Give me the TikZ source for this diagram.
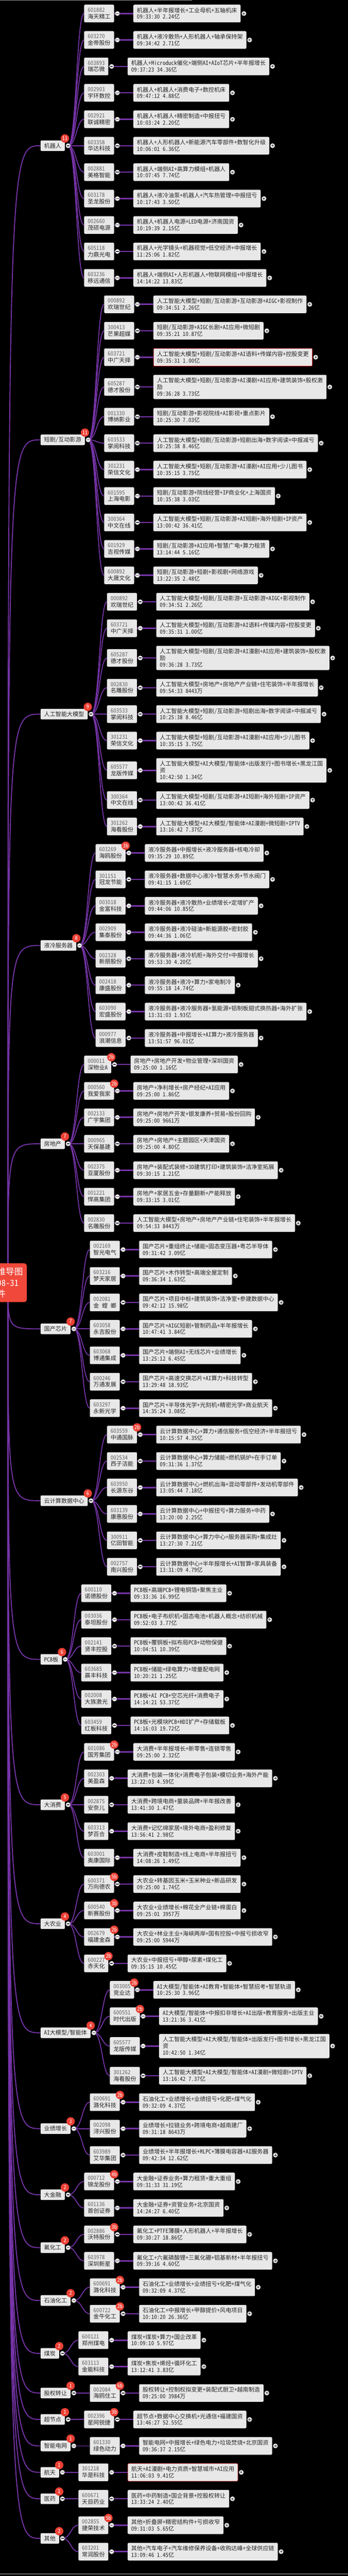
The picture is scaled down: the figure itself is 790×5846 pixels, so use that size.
\documentclass[tikz,border=0pt]{standalone}
\usepackage{fontspec}
\setmainfont{Noto Sans CJK SC}[RawFeature=+hwid]
\usetikzlibrary{positioning}
\pgfdeclarelayer{bg}
\pgfsetlayers{bg,main}
\definecolor{linkpurple}{RGB}{118,52,168}
\definecolor{boxgray}{RGB}{232,232,232}
\definecolor{inktext}{RGB}{38,38,38}
\definecolor{codegray}{RGB}{100,100,100}
\definecolor{badgered}{RGB}{236,64,52}
\definecolor{rootred}{RGB}{240,72,58}
\definecolor{alertred}{RGB}{225,45,45}
\tikzset{
  catbox/.style={rectangle, rounded corners=2.5pt, fill=boxgray, text=inktext, inner xsep=8pt, inner ysep=0pt, minimum height=24pt, font=\fontsize{13}{15}\selectfont},
  codebox/.style={catbox, align=left, minimum height=40pt},
  infobox/.style={catbox, align=left},
  alert/.style={draw=alertred, line width=0.9pt},
  badge/.style={circle, fill=badgered, text=white, inner sep=0pt, minimum size=19pt, font=\fontsize{12}{12}\selectfont},
  knob/.style={circle, fill=white, draw=black!55, line width=0.5pt, minimum size=10.6pt, inner sep=0pt},
  minus/.style={knob, path picture={\draw[line width=1.6pt, black!80] ([xshift=-3pt]path picture bounding box.center) -- ([xshift=3pt]path picture bounding box.center);}},
  plus/.style={knob, path picture={\draw[line width=1.1pt, black!80] ([xshift=-3pt]path picture bounding box.center) -- ([xshift=3pt]path picture bounding box.center) ([yshift=-3pt]path picture bounding box.center) -- ([yshift=3pt]path picture bounding box.center);}},
  rootlink/.style={draw=linkpurple, line width=2.2pt},
  catlink/.style={draw=linkpurple, line width=2pt},
  itemlink/.style={draw=linkpurple, line width=3pt},
  rootbox/.style={rectangle, rounded corners=6pt, fill=rootred, text=white, align=center, minimum width=135pt, minimum height=88pt, font=\fontsize{19.5}{25}\selectfont}
}
\newcounter{itm}
\newcommand\grp[4]{%
  \pgfmathsetmacro\yc{\yb+20+(60*#3-20+#4)/2}%
  \node[catbox, anchor=west] (#1) at (92,\yc) {#2};
  \node[minus] (#1m) at ([xshift=7.3]#1.east) {};
  \node[badge] (#1b) at ([yshift=16.5]#1.east) {#3};
  \coordinate (go) at (#1m.center);
  \coordinate (gx) at ([xshift=43.5]#1.east);
  \begin{pgfonlayer}{bg}
    \draw[rootlink] (rootc) .. controls (rootc |- #1.west) .. (#1.west);
  \end{pgfonlayer}
}
\newcommand\itmx[5]{%
  \stepcounter{itm}%
  \pgfmathsetmacro\yc{\yb+20+#2/2}%
  \pgfmathsetmacro\yn{\yc+#2/2}%
  \xdef\yb{\yn}%
  \node[codebox, anchor=west] (s\theitm) at (gx |- 0,\yc) {{\color{codegray}#3}\\#4};
  \node[infobox, #1, right=43.5pt of s\theitm, minimum height=#2pt] (t\theitm) {#5};
  \begin{pgfonlayer}{bg}
    \draw[catlink] (go) .. controls ([xshift=19]go) and ([xshift=19]go |- s\theitm.west) .. (s\theitm.west);
    \draw[itemlink] (s\theitm.east) -- (t\theitm.west);
  \end{pgfonlayer}
  \node[minus] (m\theitm) at ([xshift=7.3]s\theitm.east) {};
  \node[plus] (p\theitm) at ([xshift=7.3]t\theitm.east) {};
}
\newcommand\itm[4][]{\itmx{#1}{40}{#2}{#3}{#4}}
\newcommand\itmt[4][]{\itmx{#1}{55}{#2}{#3}{#4}}
\newcommand\hot[1]{\node[badge] (h\theitm) at ([yshift=16.5]s\theitm.east) {#1};}
\begin{document}
\begin{tikzpicture}[x=1pt, y=-1pt]
\useasboundingbox (0,0) rectangle (790,5846);
\begin{pgfonlayer}{bg}
  \fill[black] (0,0) rectangle (790,5846);
  \fill[black!45] (0,0) rectangle (436,1.2);
  \fill[black!60] (0,5840.5) rectangle (790,5843);
\end{pgfonlayer}
\coordinate (rootc) at (18,2911);
\def\yb{-9.3}

\grp{g1}{机器人}{11}{0}
\itm{601882}{海天精工}{机器人+半年报增长+工业母机+五轴机床\\09:33:30 2.24亿}
\itm{603270}{金帝股份}{机器人+液冷散热+人形机器人+轴承保持架\\09:34:42 2.71亿}
\itm{603893}{瑞芯微}{机器人+Microduck催化+端侧AI+AIoT芯片+半年报增长\\09:37:23 34.36亿}
\itm{002903}{宇环数控}{机器人+机器人+消费电子+数控机床\\09:47:12 4.88亿}
\itm{002921}{联诚精密}{机器人+机器人+精密制造+中报扭亏\\10:03:24 2.20亿}
\itm{603358}{华达科技}{机器人+人形机器人+新能源汽车零部件+数智化升级\\10:06:01 6.36亿}
\itm{002881}{美格智能}{机器人+端侧AI+高算力模组+机器人\\10:07:45 7.74亿}
\itm{603178}{圣龙股份}{机器人+液冷油泵+机器人+汽车热管理+中报扭亏\\10:17:43 3.50亿}
\itm{002660}{茂硕电源}{机器人+机器人电源+LED电源+济南国资\\10:19:39 2.15亿}
\itm{605118}{力鼎光电}{机器人+光学镜头+机器视觉+低空经济+中报增长\\11:25:06 1.82亿}
\itm{603236}{移远通信}{机器人+端侧AI+人形机器人+物联网模组+中报增长\\14:14:22 13.83亿}

\grp{g2}{短剧/互动影游}{11}{15}
\itm{000892}{欢瑞世纪}{人工智能大模型+短剧/互动影游+互动影游+AIGC+影视制作\\09:34:51 2.26亿}
\itm{300413}{芒果超媒}{短剧/互动影游+AIGC长剧+AI应用+微短剧\\09:35:21 10.87亿}
\itm[alert]{603721}{中广天择}{人工智能大模型+短剧/互动影游+AI语料+传媒内容+控股变更\\09:35:31 1.00亿}
\itmt{605287}{德才股份}{人工智能大模型+短剧/互动影游+AI漫剧+AI应用+建筑装饰+股权激\\励\\09:36:28 3.73亿}
\itm{001330}{博纳影业}{短剧/互动影游+影视院线+AI影视+重点影片\\10:25:30 7.03亿}
\itm{603533}{掌阅科技}{人工智能大模型+短剧/互动影游+短剧出海+数字阅读+中报减亏\\10:25:38 8.46亿}
\itm{301231}{荣信文化}{人工智能大模型+短剧/互动影游+AI漫剧+AI应用+少儿图书\\10:35:15 3.75亿}
\itm{601595}{上海电影}{短剧/互动影游+院线经营+IP商业化+上海国资\\10:35:38 3.03亿}
\itm{300364}{中文在线}{人工智能大模型+短剧/互动影游+AI短剧+海外短剧+IP资产\\13:00:42 36.41亿}
\itm{601929}{吉视传媒}{短剧/互动影游+AI应用+智慧广电+算力租赁\\13:14:44 5.16亿}
\itm{600892}{大晟文化}{短剧/互动影游+短剧+影视剧+网络游戏\\13:22:35 2.48亿}

\grp{g3}{人工智能大模型}{9}{30}
\itm{000892}{欢瑞世纪}{人工智能大模型+短剧/互动影游+互动影游+AIGC+影视制作\\09:34:51 2.26亿}
\itm{603721}{中广天择}{人工智能大模型+短剧/互动影游+AI语料+传媒内容+控股变更\\09:35:31 1.00亿}
\itmt{605287}{德才股份}{人工智能大模型+短剧/互动影游+AI漫剧+AI应用+建筑装饰+股权激\\励\\09:36:28 3.73亿}
\itm{002830}{名雕股份}{人工智能大模型+房地产+房地产产业链+住宅装饰+半年报增长\\09:54:33 8443万}
\itm{603533}{掌阅科技}{人工智能大模型+短剧/互动影游+短剧出海+数字阅读+中报减亏\\10:25:38 8.46亿}
\itm{301231}{荣信文化}{人工智能大模型+短剧/互动影游+AI漫剧+AI应用+少儿图书\\10:35:15 3.75亿}
\itmt{605577}{龙版传媒}{人工智能大模型+AI大模型/智能体+出版发行+图书增长+黑龙江国\\资\\10:42:50 1.34亿}
\itm{300364}{中文在线}{人工智能大模型+短剧/互动影游+AI短剧+海外短剧+IP资产\\13:00:42 36.41亿}
\itm{301262}{海看股份}{人工智能大模型+AI大模型/智能体+AI漫剧+微短剧+IPTV\\13:16:42 7.37亿}

\grp{g4}{液冷服务器}{8}{0}
\itm{603269}{海鸥股份}{液冷服务器+中报增长+液冷服务器+核电冷却\\09:35:29 10.89亿}\hot{3b}
\itm{301151}{冠龙节能}{液冷服务器+数据中心液冷+智慧水务+节水阀门\\09:41:15 1.69亿}
\itm{003018}{金富科技}{液冷服务器+液冷散热+业绩增长+定增扩产\\09:44:06 10.85亿}
\itm{002909}{集泰股份}{液冷服务器+液冷硅油+新能源胶+密封胶\\09:44:36 1.06亿}
\itm{002328}{新朋股份}{液冷服务器+液冷机柜+海外交付+中报增长\\09:53:30 4.20亿}
\itm{002418}{康盛股份}{液冷服务器+液冷+算力+家电制冷\\09:55:18 14.74亿}
\itm{603090}{宏盛股份}{液冷服务器+液冷服务器+氢能源+铝制板翅式换热器+海外扩张\\13:31:03 1.93亿}
\itm{000977}{浪潮信息}{液冷服务器+中报增长+AI算力+液冷服务器\\13:51:57 96.01亿}

\grp{g5}{房地产}{7}{0}
\itm{000011}{深物业A}{房地产+房地产开发+物业管理+深圳国资\\09:25:00 1.16亿}\hot{2b}
\itm{000560}{我爱我家}{房地产+净利增长+房产经纪+AI应用\\09:25:00 1.86亿}\hot{2b}
\itm{002133}{广宇集团}{房地产+房地产开发+银发康养+贸易+股份回购\\09:25:00 9661万}
\itm{000965}{天保基建}{房地产+房地产+主题园区+天津国资\\09:25:00 4.80亿}
\itm{002375}{亚厦股份}{房地产+装配式装修+3D建筑打印+建筑装饰+洁净室拓展\\09:30:15 1.21亿}
\itm{001221}{悍高集团}{房地产+家居五金+存量翻新+产能释放\\09:33:15 3.01亿}
\itm{002830}{名雕股份}{人工智能大模型+房地产+房地产产业链+住宅装饰+半年报增长\\09:54:33 8443万}

\grp{g6}{国产芯片}{7}{0}
\itm{002169}{智光电气}{国产芯片+重组终止+储能+固态变压器+粤芯半导体\\09:31:42 3.09亿}
\itm{603216}{梦天家居}{国产芯片+木作转型+高端全屋定制\\09:36:34 1.63亿}
\itm{002081}{金\hspace{6.5pt}螳\hspace{6.5pt}螂}{国产芯片+项目中标+建筑装饰+洁净室+参建数据中心\\09:42:12 15.98亿}
\itm{603058}{永吉股份}{国产芯片+AIGC短剧+管制药品+半年报增长\\10:47:41 3.84亿}
\itm{603068}{博通集成}{国产芯片+端侧AI+无线芯片+业绩增长\\13:25:12 6.45亿}
\itm{600246}{万通发展}{国产芯片+高速交换芯片+AI算力+科技转型\\13:29:48 18.93亿}
\itm{603297}{永新光学}{国产芯片+半导体光学+光刻机+精密光学+商业航天\\14:35:24 3.08亿}

\grp{g7}{云计算数据中心}{6}{0}
\itm{603559}{中通国脉}{云计算数据中心+算力+通信服务+低空经济+半年报扭亏\\10:15:57 4.35亿}\hot{2b}
\itm{002534}{西子洁能}{云计算数据中心+算力储能+燃机锅炉+在手订单\\09:31:36 1.37亿}
\itm{603950}{长源东谷}{云计算数据中心+燃机出海+混动零部件+发动机零部件\\13:05:44 7.18亿}
\itm{603139}{康惠股份}{云计算数据中心+中报扭亏+算力服务+中药\\13:20:00 2.25亿}
\itm{300911}{亿田智能}{云计算数据中心+算力中心+服务器采购+集成灶\\13:27:30 7.21亿}
\itm{002757}{南兴股份}{云计算数据中心+半年报增长+AI智算+家具装备\\13:31:09 4.79亿}

\grp{g8}{PCB板}{6}{0}
\itm{600110}{诺德股份}{PCB板+高端PCB+锂电铜箔+聚焦主业\\09:33:36 16.99亿}
\itm{003036}{泰坦股份}{PCB板+电子布织机+固态电池+机器人概念+纺织机械\\09:52:03 3.77亿}
\itm{002141}{贤丰控股}{PCB板+覆铜板+拟布局PCB+动物保健\\10:04:51 10.39亿}
\itm{603685}{晨丰科技}{PCB板+储能+绿电算力+增量配电网\\10:20:21 1.25亿}
\itm{002008}{大族激光}{PCB板+AI PCB+空芯光纤+消费电子\\14:14:21 53.37亿}
\itm{603459}{红板科技}{PCB板+光模块PCB+HDI扩产+存储载板\\14:16:03 19.72亿}

\grp{g9}{大消费}{5}{0}
\itm{601086}{国芳集团}{大消费+半年报增长+新零售+连锁零售\\09:25:00 2.32亿}\hot{2b}
\itm{002303}{美盈森}{大消费+包装一体化+消费电子包装+模切业务+海外产能\\13:22:03 4.59亿}
\itm{002875}{安奈儿}{大消费+跨境电商+童装品牌+半年报改善\\13:41:30 1.47亿}
\itm{603313}{梦百合}{大消费+记忆绵家居+境外电商+盈利修复\\13:56:41 2.98亿}
\itm{603001}{奥康国际}{大消费+皮鞋制造+线上电商+半年报扭亏\\14:08:26 1.49亿}

\grp{g10}{大农业}{4}{0}
\itm{600371}{万向德农}{大农业+转基因玉米+玉米种业+新品研发\\09:25:00 1.74亿}\hot{5b}
\itm{600540}{新赛股份}{大农业+业绩增长+棉花全产业链+棉蛋白\\09:25:01 3957万}\hot{3b}
\itm{002679}{福建金森}{大农业+林业主业+海峡两岸+国有控股+中报亏损收窄\\09:25:00 5944万}\hot{2b}
\itm{600227}{赤天化}{大农业+中报扭亏+甲醇+尿素+煤化工\\09:35:15 10.45亿}\hot{2b}

\grp{g11}{AI大模型/智能体}{4}{15}
\itm{003005}{竞业达}{AI大模型/智能体+AI教育+智能体+智慧招考+智慧轨道\\10:25:30 3.96亿}\hot{2b}
\itm{600551}{时代出版}{AI大模型/智能体+中报扣非增长+AI出版+教育服务+出版主业\\13:21:36 3.41亿}\hot{2b}
\itmt{605577}{龙版传媒}{人工智能大模型+AI大模型/智能体+出版发行+图书增长+黑龙江国\\资\\10:42:50 1.34亿}
\itm{301262}{海看股份}{人工智能大模型+AI大模型/智能体+AI漫剧+微短剧+IPTV\\13:16:42 7.37亿}

\grp{g12}{业绩增长}{3}{0}
\itm{600691}{潞化科技}{石油化工+业绩增长+业绩扭亏+化肥+煤气化\\09:32:09 4.37亿}\hot{2b}
\itm{002098}{浔兴股份}{业绩增长+拉链业务+跨境电商+越南建厂\\09:31:18 8643万}
\itm{603989}{艾华集团}{业绩增长+半年报增长+MLPC+薄膜电容器+AI服务器\\09:42:34 12.62亿}

\grp{g13}{大金融}{2}{0}
\itm{000712}{锦龙股份}{大金融+证券业务+算力租赁+重大重组\\09:31:33 31.19亿}\hot{4b}
\itm{601136}{首创证券}{大金融+证券+资管业务+北京国资\\14:24:27 6.40亿}

\grp{g14}{氟化工}{2}{0}
\itm{002886}{沃特股份}{氟化工+PTFE薄膜+人形机器人+半年报增长\\09:30:27 18.86亿}\hot{3b}
\itm{603978}{深圳新星}{氟化工+六氟磷酸锂+三氟化硼+铝基新材+半年报扭亏\\09:39:16 4.60亿}

\grp{g15}{石油化工}{2}{0}
\itm{600691}{潞化科技}{石油化工+业绩增长+业绩扭亏+化肥+煤气化\\09:32:09 4.37亿}\hot{2b}
\itm{600722}{金牛化工}{石油化工+中报增长+甲醇提价+风电项目\\10:10:20 26.36亿}\hot{2b}

\grp{g16}{煤炭}{2}{0}
\itm{600121}{郑州煤电}{煤炭+煤炭+算力+国企改革\\10:09:10 5.97亿}
\itm{603113}{金能科技}{煤炭+焦炭+烯烃+循环化工\\13:12:41 3.83亿}

\grp{g17}{股权转让}{1}{0}
\itm{002084}{海鸥住工}{股权转让+控制权拟变更+装配式厨卫+越南制造\\09:25:00 3984万}\hot{6b}

\grp{g18}{超节点}{1}{0}
\itm{002396}{星网锐捷}{超节点+数据中心交换机+光通信+福建国资\\13:46:27 52.55亿}\hot{3b}

\grp{g19}{智能电网}{1}{0}
\itm{601330}{绿色动力}{智能电网+中报增长+绿色电力+垃圾焚烧+北京国资\\09:36:37 2.15亿}

\grp{g20}{航天}{1}{0}
\itm[alert]{301218}{华是科技}{航天+AI漫剧+电力资质+智慧城市+AI应用\\11:06:03 9.41亿}

\grp{g21}{医药}{1}{0}
\itm{600671}{天目药业}{医药+中药制造+国企背景+控股权转让\\13:33:24 2.40亿}

\grp{g22}{其他}{2}{0}
\itm{002855}{捷荣技术}{其他+折叠屏+精密结构件+亏损收窄\\09:31:03 5.65亿}\hot{5b}
\itm{603201}{常润股份}{其他+汽车电子+汽车维修保养设备+收购达峰+全球供应链\\13:09:46 1.45亿}

\node[rootbox] (root) at (-6.5,2911) {涨停思维导图\\2025-08-31\\事件};
\end{tikzpicture}
\end{document}
